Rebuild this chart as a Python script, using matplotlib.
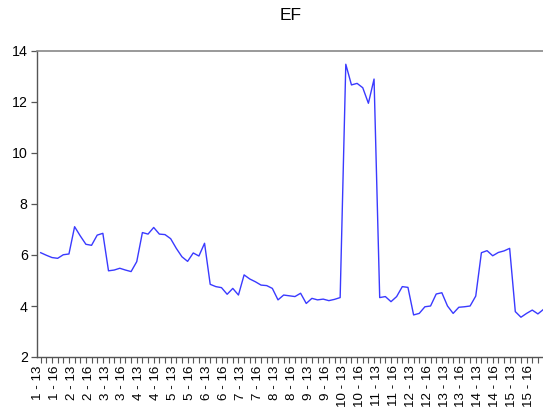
import matplotlib
matplotlib.use("Agg")
import matplotlib.pyplot as plt
from matplotlib.transforms import ScaledTranslation

# ---- data ----
groups = list(range(1, 16))
subs = [13, 14, 15, 16, 17, 18]
categories = [f"{g} - {s}" for g in groups for s in subs]

ef_values = [
    6.09, 5.99, 5.90, 5.87, 6.01, 6.04, 7.11, 6.75, 6.42, 6.38,
    6.78, 6.85, 5.38, 5.41, 5.48, 5.41, 5.35, 5.74, 6.88, 6.82,
    7.08, 6.82, 6.80, 6.64, 6.26, 5.93, 5.75, 6.08, 5.96, 6.46,
    4.85, 4.76, 4.72, 4.46, 4.69, 4.43, 5.22, 5.06, 4.95, 4.82,
    4.80, 4.69, 4.24, 4.43, 4.40, 4.37, 4.50, 4.10, 4.30, 4.24,
    4.27, 4.21, 4.26, 4.33, 13.48, 12.67, 12.73, 12.56, 11.95, 12.90,
    4.33, 4.37, 4.17, 4.37, 4.76, 4.73, 3.65, 3.71, 3.97, 4.00,
    4.47, 4.52, 4.00, 3.71, 3.95, 3.97, 4.00, 4.39, 6.09, 6.17,
    5.97, 6.10, 6.16, 6.26, 3.78, 3.56, 3.71, 3.84, 3.69, 3.87,
]
y_ticks = [2, 4, 6, 8, 10, 12, 14]
title = "EF"

plt.rcParams['font.family'] = ['Liberation Sans', 'DejaVu Sans']

W, H, DPI = 543, 416, 100
fig = plt.figure(figsize=(W / DPI, H / DPI), dpi=DPI)
left = 36.7 / W
bottom = (H - 357) / H
top = (H - 51) / H
x0_px, step_px = 40.7, 5.65
xl, xr = -(x0_px - 36.7) / step_px, 89.6
right_px = x0_px + xr * step_px
ax = fig.add_axes([left, bottom, (right_px - 36.7) / W, top - bottom])

x = list(range(len(ef_values)))
ax.plot(x, ef_values, color='#3a3aff', linewidth=1.0)

ax.set_xlim(xl, xr)
ax.set_ylim(2, 14)
ax.set_yticks(y_ticks)
ax.set_yticklabels([str(t) for t in y_ticks], fontsize=10.2)

ax.set_xticks(x, minor=True)
major = [i for i, c in enumerate(categories) if c.endswith("13") or c.endswith("16")]
ax.set_xticks(major)
ax.set_xticklabels([categories[i] for i in major], rotation=90, fontsize=9.6)
ax.tick_params(axis='x', which='both', direction='out', length=4, width=0.8,
               color='#555555', pad=2)
ax.tick_params(axis='y', direction='out', length=4.5, width=0.9, color='#555555', pad=2)

off = ScaledTranslation(-3 / DPI, 0, fig.dpi_scale_trans)
for lbl in ax.get_xticklabels():
    lbl.set_transform(lbl.get_transform() + off)

for side in ['left', 'bottom']:
    ax.spines[side].set_color('#555555')
    ax.spines[side].set_linewidth(1.0)
ax.spines['top'].set_color('#888888')
ax.spines['top'].set_linewidth(1.2)
ax.spines['right'].set_visible(False)

fig.text(291 / W, 1 - 16 / H, title, ha='center', va='center', fontsize=12.5)

fig.savefig("out.png", dpi=DPI)
